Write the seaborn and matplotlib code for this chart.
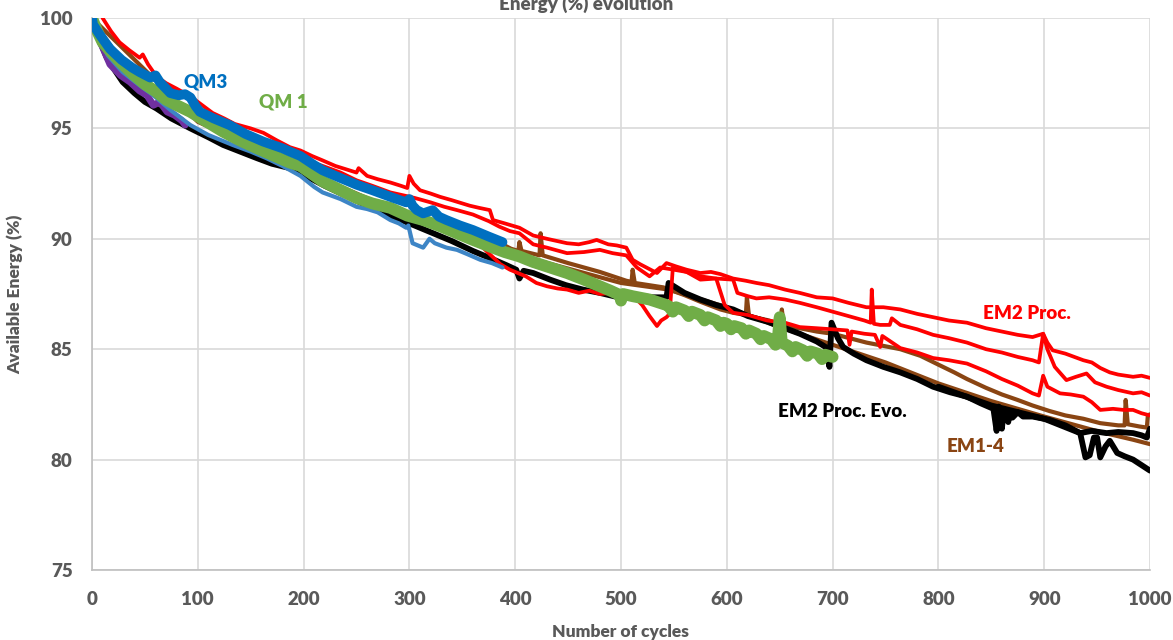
import matplotlib
matplotlib.use("Agg")
import matplotlib.pyplot as plt
import seaborn as sns
import pandas as pd

# ---------------------------------------------------------------- data
# EM2 Proc. cells (red)
em2_a_cycles = [10, 18, 26, 35, 45, 48, 53, 61, 70, 80, 93, 100, 114, 125, 135, 150, 162, 175, 187, 197,
                208, 218, 230, 240, 250, 252, 260, 270, 282, 292, 298, 300, 304, 310, 320, 329, 340, 357,
                366, 376, 379, 390, 404, 417, 430, 449, 460, 470, 477, 488, 496, 505, 511, 518, 524, 534,
                543, 552, 562, 575, 585, 594, 606, 618, 628, 640, 655, 669, 685, 700, 715, 732, 748, 764,
                780, 795, 810, 827, 845, 860, 875, 889, 899, 903, 908, 920, 937, 945, 953, 962, 970, 984,
                992, 1000]
em2_a_energy = [100.0, 99.4, 98.9, 98.55, 98.2, 98.35, 97.9, 97.35, 97.05, 96.8, 96.45, 96.2, 95.7, 95.45,
                95.2, 95.0, 94.8, 94.45, 94.15, 94.0, 93.75, 93.55, 93.3, 93.15, 93.0, 93.2, 92.85, 92.7,
                92.55, 92.4, 92.3, 92.85, 92.5, 92.2, 92.05, 91.9, 91.75, 91.5, 91.4, 91.3, 90.85, 90.7,
                90.5, 90.15, 90.0, 89.8, 89.75, 89.85, 89.95, 89.75, 89.7, 89.6, 89.05, 88.85, 88.7, 88.45,
                88.9, 88.75, 88.6, 88.45, 88.5, 88.4, 88.2, 88.1, 88.0, 87.9, 87.7, 87.55, 87.35, 87.3,
                87.1, 86.9, 86.9, 86.8, 86.6, 86.45, 86.3, 86.2, 85.95, 85.8, 85.65, 85.55, 85.7, 85.3,
                84.95, 84.8, 84.5, 84.4, 84.15, 83.95, 83.85, 83.75, 83.8, 83.7]

em2_b_cycles = [0, 8, 17, 28, 45, 64, 93, 102, 115, 130, 145, 162, 187, 200, 218, 235, 250, 265, 282, 296,
                305, 320, 333, 345, 360, 375, 385, 395, 404, 417, 430, 449, 465, 480, 492, 505, 515, 527,
                537, 550, 562, 575, 590, 606, 610, 620, 628, 640, 655, 669, 685, 700, 715, 730, 736, 737,
                739, 745, 754, 756, 764, 780, 795, 810, 827, 845, 860, 875, 889, 895, 899, 903, 910, 921,
                930, 940, 948, 959, 970, 984, 992, 1000]
em2_b_energy = [100.0, 99.2, 98.6, 98.1, 97.55, 97.1, 96.4, 95.75, 95.45, 95.15, 94.75, 94.4, 93.95, 93.6,
                93.3, 93.0, 92.65, 92.4, 92.1, 91.95, 91.85, 91.65, 91.45, 91.3, 91.1, 90.8, 90.55, 90.35,
                90.25, 89.75, 89.6, 89.35, 89.4, 89.5, 89.35, 89.25, 88.7, 88.3, 88.7, 88.6, 88.5, 88.15,
                88.2, 88.15, 87.55, 87.4, 87.3, 87.35, 87.25, 87.1, 86.9, 86.7, 86.5, 86.3, 86.2, 87.7,
                86.15, 86.1, 86.1, 86.4, 86.1, 85.9, 85.65, 85.5, 85.3, 85.0, 84.85, 84.65, 84.5, 84.4,
                85.7, 85.0, 84.2, 83.6, 83.75, 83.9, 83.5, 83.3, 83.15, 83.0, 83.05, 82.9]

em2_c_cycles = [0, 10, 29, 50, 70, 93, 124, 156, 187, 218, 250, 282, 298, 313, 330, 345, 362, 376, 386,
                395, 410, 420, 430, 440, 449, 460, 470, 480, 490, 500, 510, 516, 520, 527, 534, 538, 543,
                546, 549, 555, 562, 575, 590, 598, 606, 620, 638, 655, 669, 685, 700, 714, 716, 718, 730,
                740, 745, 747, 764, 780, 795, 810, 827, 845, 860, 875, 889, 895, 899, 903, 915, 925, 937,
                945, 953, 965, 975, 984, 992, 1000]
em2_c_energy = [100.0, 98.9, 97.9, 97.0, 96.3, 95.75, 94.85, 94.1, 93.45, 92.6, 91.85, 91.4, 91.05, 90.85,
                90.55, 90.25, 89.95, 89.3, 88.85, 88.6, 88.3, 88.0, 87.85, 87.75, 87.7, 87.55, 87.65, 87.5,
                87.55, 87.4, 87.45, 87.2, 87.0, 86.5, 86.05, 86.3, 86.45, 86.6, 88.7, 88.6, 88.5, 88.3,
                88.2, 87.0, 86.65, 86.55, 86.3, 86.2, 86.0, 85.95, 85.9, 85.85, 85.2, 85.8, 85.7, 85.65,
                85.1, 85.6, 85.05, 84.85, 84.6, 84.5, 84.35, 84.0, 83.65, 83.35, 83.0, 82.9, 83.8, 83.3,
                83.0, 82.95, 82.85, 82.6, 82.25, 82.3, 82.25, 82.25, 82.1, 82.0]

# EM1-4 cells (brown)
em14_a_cycles = [0, 10, 29, 50, 70, 93, 124, 156, 187, 218, 250, 282, 313, 345, 376, 386, 396, 403, 404,
                 406, 423, 424, 426, 450, 480, 505, 510, 511, 513, 540, 560, 575, 594, 606, 618, 619, 621,
                 640, 651, 652, 654, 669, 685, 700, 716, 732, 748, 764, 783, 800, 815, 827, 845, 860, 875,
                 889, 905, 920, 937, 953, 970, 976, 977, 979, 990, 997, 998, 1000]
em14_a_energy = [100.0, 98.9, 97.9, 97.0, 96.3, 95.75, 94.85, 94.1, 93.45, 92.6, 91.85, 91.4, 90.85,
                 90.25, 89.85, 89.8, 89.55, 89.45, 89.85, 89.45, 89.25, 90.25, 89.25, 88.9, 88.5, 88.1,
                 88.05, 88.6, 88.0, 87.8, 87.45, 87.15, 86.8, 86.65, 86.55, 87.35, 86.5, 86.3, 86.1, 86.8,
                 86.05, 85.95, 85.8, 85.7, 85.5, 85.3, 85.15, 85.0, 84.7, 84.3, 83.95, 83.65, 83.25, 82.95,
                 82.7, 82.45, 82.2, 82.0, 81.85, 81.65, 81.55, 81.55, 82.7, 81.6, 81.5, 81.45, 82.0, 82.05]

em14_b_cycles = [0, 100, 200, 300, 400, 500, 545, 600, 650, 700, 750, 800, 850, 900, 953, 984, 1000]
em14_b_energy = [100.0, 95.3, 93.1, 91.0, 89.3, 88.0, 87.7, 86.9, 86.0, 85.2, 84.4, 83.45, 82.65, 81.95,
                 81.25, 80.9, 80.7]

# EM2 Proc. Evo. cells (black)
evo_a_cycles = [0, 7, 14, 22, 29, 40, 50, 61, 75, 93, 110, 124, 140, 156, 170, 187, 200, 220, 240, 260,
                280, 300, 320, 340, 360, 380, 392, 401, 404, 408, 417, 433, 448, 464, 480, 502, 520, 530,
                543, 545, 550, 560, 575, 590, 606, 620, 638, 655, 669, 685, 695, 697, 699, 705, 710, 720,
                732, 748, 764, 780, 795, 811, 827, 840, 852, 855, 857, 860, 862, 866, 868, 870, 875, 880,
                889, 905, 920, 934, 939, 943, 947, 950, 953, 958, 962, 969, 976, 984, 992, 1000]
evo_a_energy = [100.0, 99.0, 98.2, 97.6, 97.1, 96.6, 96.2, 95.9, 95.45, 95.0, 94.6, 94.25, 93.95, 93.65,
                93.4, 93.2, 92.9, 92.4, 91.95, 91.5, 91.1, 90.7, 90.3, 89.9, 89.45, 89.05, 88.8, 88.6,
                88.2, 88.55, 88.45, 88.15, 87.9, 87.7, 87.55, 87.3, 87.4, 87.35, 87.35, 88.0, 87.85, 87.55,
                87.25, 87.0, 86.8, 86.5, 86.25, 85.95, 85.7, 85.35, 85.05, 84.2, 86.2, 85.5, 85.1, 84.8,
                84.5, 84.2, 83.95, 83.65, 83.3, 83.05, 82.85, 82.55, 82.3, 81.3, 82.4, 81.4, 82.3, 81.7,
                82.2, 81.9, 82.15, 81.95, 81.95, 81.8, 81.55, 81.2, 80.1, 80.2, 81.0, 81.0, 80.1, 80.6,
                80.85, 80.3, 80.15, 80.0, 79.75, 79.5]

evo_b_cycles = [800, 850, 900, 934, 945, 959, 970, 984, 992, 997, 1000]
evo_b_energy = [83.3, 82.45, 81.85, 81.2, 81.3, 81.2, 81.25, 81.2, 81.1, 81.0, 81.4]

# QM cells
qm3_cycles = [0, 1, 8, 17, 28, 38, 45, 55, 60, 64, 70, 74, 82, 88, 93, 98, 102, 115, 130, 145, 162, 180,
              187, 197, 208, 218, 235, 250, 265, 282, 297, 300, 303, 307, 313, 322, 328, 335, 348, 360,
              375, 388]
qm3_energy = [100.0, 99.7, 99.2, 98.6, 98.1, 97.75, 97.55, 97.3, 97.4, 97.1, 96.8, 96.6, 96.5, 96.55, 96.4,
              96.0, 95.75, 95.45, 95.15, 94.75, 94.4, 94.1, 93.95, 93.75, 93.4, 93.1, 92.75, 92.45, 92.2,
              91.9, 91.65, 91.8, 91.5, 91.3, 91.15, 91.3, 91.0, 90.85, 90.6, 90.4, 90.1, 89.85]

qm3b_cycles = [0, 5, 15, 29, 45, 58, 75, 93, 110, 133, 150, 165, 180, 197, 210, 218, 235, 250, 260, 270,
               282, 290, 297, 299, 303, 313, 319, 324, 335, 345, 355, 367, 378, 388]
qm3b_energy = [100.0, 99.2, 98.3, 97.55, 96.95, 96.5, 95.8, 95.15, 94.7, 94.25, 93.95, 93.65, 93.3, 92.85,
               92.35, 92.1, 91.8, 91.45, 91.35, 91.2, 90.85, 90.7, 90.5, 90.6, 89.8, 89.6, 90.0, 89.8,
               89.6, 89.5, 89.3, 89.05, 88.9, 88.7]

qm1_cycles = [0, 5, 10, 20, 29, 40, 50, 61, 70, 80, 93, 105, 124, 140, 156, 175, 187, 197, 218, 235, 250,
              265, 282, 298, 313, 330, 345, 360, 376, 390, 404, 417, 433, 449, 465, 480, 490, 499, 500,
              502, 511, 527, 543, 545, 549, 552, 560, 564, 567, 575, 579, 582, 590, 594, 597, 600, 604,
              607, 614, 618, 621, 628, 632, 635, 642, 646, 648, 650, 652, 658, 662, 665, 672, 676, 679,
              686, 690, 693, 700]
qm1_energy = [100.0, 99.4, 98.9, 98.35, 97.9, 97.4, 97.0, 96.65, 96.3, 96.05, 95.75, 95.4, 94.85, 94.45,
              94.1, 93.7, 93.45, 93.3, 92.6, 92.2, 91.85, 91.6, 91.4, 91.05, 90.85, 90.55, 90.25, 89.95,
              89.65, 89.4, 89.2, 88.95, 88.7, 88.45, 88.15, 87.85, 87.65, 87.45, 87.2, 87.5, 87.4, 87.25,
              87.0, 86.95, 86.7, 86.9, 86.75, 86.5, 86.7, 86.55, 86.3, 86.45, 86.3, 86.05, 86.2, 86.15,
              85.9, 86.05, 85.95, 85.7, 85.85, 85.7, 85.45, 85.6, 85.45, 85.2, 85.35, 86.45, 85.3, 85.15,
              84.9, 85.1, 84.95, 84.7, 84.9, 84.8, 84.55, 84.75, 84.65]

qm_purple_cycles = [0, 8, 17, 27, 36, 45, 52, 58, 64, 71, 78, 85, 88]
qm_purple_energy = [100.0, 98.9, 97.9, 97.4, 97.1, 96.7, 96.5, 96.05, 96.2, 95.75, 95.6, 95.35, 95.15]

x_ticks = [0, 100, 200, 300, 400, 500, 600, 700, 800, 900, 1000]
y_ticks = [75, 80, 85, 90, 95, 100]

# ---------------------------------------------------------------- styling
RED, BROWN, BLACK = "#FF0000", "#8A4513", "#000000"
BLUE, LIGHT_BLUE, GREEN, PURPLE = "#0070C0", "#3D85C6", "#70AD47", "#7030A0"
GREY_TEXT = "#595959"

series = [
    ("EM1-4 b", em14_b_cycles, em14_b_energy, BROWN, 3.0),
    ("EM1-4 a", em14_a_cycles, em14_a_energy, BROWN, 3.0),
    ("Evo b", evo_b_cycles, evo_b_energy, BLACK, 4.2),
    ("Evo a", evo_a_cycles, evo_a_energy, BLACK, 4.2),
    ("EM2 c", em2_c_cycles, em2_c_energy, RED, 2.7),
    ("EM2 b", em2_b_cycles, em2_b_energy, RED, 2.7),
    ("EM2 a", em2_a_cycles, em2_a_energy, RED, 2.7),
    ("QM purple", qm_purple_cycles, qm_purple_energy, PURPLE, 5.0),
    ("QM3 b", qm3b_cycles, qm3b_energy, LIGHT_BLUE, 3.0),
    ("QM 1", qm1_cycles, qm1_energy, GREEN, 8.5),
    ("QM3", qm3_cycles, qm3_energy, BLUE, 7.0),
]

frames = [pd.DataFrame({"series": name, "cycle": xs, "energy": ys}) for name, xs, ys, _, _ in series]
df = pd.concat(frames, ignore_index=True)

sns.set_theme(style="white")
plt.rcParams["font.family"] = ["Lato", "DejaVu Sans"]

fig = plt.figure(figsize=(11.73, 6.4), dpi=100)
ax = fig.add_axes([92 / 1173, 70 / 640, 1058 / 1173, 552 / 640])

for z, (name, _, _, color, lw) in enumerate(series):
    sns.lineplot(data=df[df["series"] == name], x="cycle", y="energy", color=color,
                 linewidth=lw, estimator=None, sort=False, ax=ax, legend=False, zorder=3 + z)

ax.set_xlim(0, 1000)
ax.set_ylim(75, 100)
ax.set_xticks(x_ticks)
ax.set_yticks(y_ticks)
ax.grid(True, color="#D9D9D9", linewidth=1.2)
ax.set_axisbelow(True)
for side in ("top", "right"):
    ax.spines[side].set_visible(False)
for side in ("left", "bottom"):
    ax.spines[side].set_color("#BFBFBF")
    ax.spines[side].set_linewidth(1.2)
ax.tick_params(axis="both", length=0, labelsize=13.5, labelcolor=GREY_TEXT)
ax.tick_params(axis="x", pad=15)
ax.tick_params(axis="y", pad=14)
for lab in ax.get_xticklabels() + ax.get_yticklabels():
    lab.set_fontweight("heavy")

ax.set_xlabel("Number of cycles", fontsize=12.5, fontweight="heavy", color=GREY_TEXT, labelpad=12)
ax.set_ylabel("Available Energy (%)", fontsize=12.5, fontweight="heavy", color=GREY_TEXT, labelpad=12)
fig.text(0.5, 0.994, "Energy (%) evolution", ha="center", va="center", fontsize=13.5,
         fontweight="heavy", color=GREY_TEXT)

label_kw = dict(ha="center", va="center", fontsize=13.5, fontweight="heavy", zorder=20)
ax.text(107, 97.1, "QM3", color=BLUE, **label_kw)
ax.text(181, 96.2, "QM 1", color=GREEN, **label_kw)
ax.text(884, 86.6, "EM2 Proc.", color=RED, **label_kw)
ax.text(709, 82.2, "EM2 Proc. Evo.", color=BLACK, **label_kw)
ax.text(835, 80.6, "EM1-4", color=BROWN, **label_kw)

fig.savefig("out.png", dpi=100)
